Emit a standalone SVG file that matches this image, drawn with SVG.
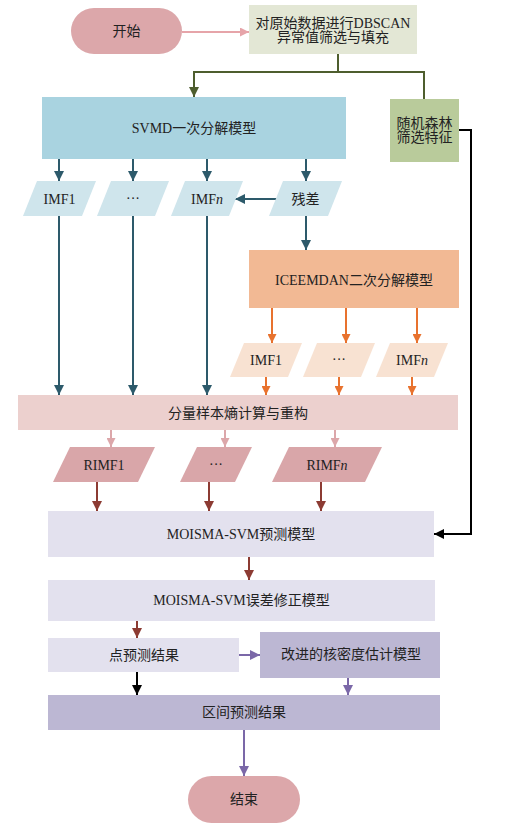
<svg xmlns="http://www.w3.org/2000/svg" width="509" height="828" viewBox="0 0 509 828">
<style>
text{font-family:"Liberation Serif","Noto Sans CJK SC",serif;font-size:14px;fill:#222;text-anchor:middle;dominant-baseline:central}
.ln{fill:none;stroke-width:2}
</style>
<defs>
<marker id="mPink" viewBox="0 0 10 10" refX="10" refY="5" markerWidth="9" markerHeight="9" markerUnits="userSpaceOnUse" orient="auto"><path d="M0,0L10,5L0,10z" fill="#e6a4a9"/></marker>
<marker id="mGreen" viewBox="0 0 10 10" refX="10" refY="5" markerWidth="10" markerHeight="10" markerUnits="userSpaceOnUse" orient="auto"><path d="M0,0L10,5L0,10z" fill="#4e5e2e"/></marker>
<marker id="mTeal" viewBox="0 0 10 10" refX="10" refY="5" markerWidth="10" markerHeight="10" markerUnits="userSpaceOnUse" orient="auto"><path d="M0,0L10,5L0,10z" fill="#2d5a6b"/></marker>
<marker id="mOrange" viewBox="0 0 10 10" refX="10" refY="5" markerWidth="9" markerHeight="9" markerUnits="userSpaceOnUse" orient="auto"><path d="M0,0L10,5L0,10z" fill="#e8722e"/></marker>
<marker id="mRose" viewBox="0 0 10 10" refX="10" refY="5" markerWidth="9" markerHeight="9" markerUnits="userSpaceOnUse" orient="auto"><path d="M0,0L10,5L0,10z" fill="#dca7aa"/></marker>
<marker id="mRed" viewBox="0 0 10 10" refX="10" refY="5" markerWidth="10" markerHeight="10" markerUnits="userSpaceOnUse" orient="auto"><path d="M0,0L10,5L0,10z" fill="#8c3b33"/></marker>
<marker id="mBlack" viewBox="0 0 10 10" refX="10" refY="5" markerWidth="10" markerHeight="10" markerUnits="userSpaceOnUse" orient="auto"><path d="M0,0L10,5L0,10z" fill="#000"/></marker>
<marker id="mPurple" viewBox="0 0 10 10" refX="10" refY="5" markerWidth="10" markerHeight="10" markerUnits="userSpaceOnUse" orient="auto"><path d="M0,0L10,5L0,10z" fill="#7b68a8"/></marker>
</defs>

<g id="connectors">
<path class="ln" d="M182,32H249" stroke="#e6a4a9" marker-end="url(#mPink)"/>
<path class="ln" d="M338,54V72H194V97" stroke="#4e5e2e" marker-end="url(#mGreen)"/>
<path class="ln" d="M338,72H424V99" stroke="#4e5e2e"/>
<path class="ln" d="M459,130H471V534H434" stroke="#000" marker-end="url(#mBlack)"/>
<path class="ln" d="M59,159V181" stroke="#2d5a6b" marker-end="url(#mTeal)"/>
<path class="ln" d="M133,159V181" stroke="#2d5a6b" marker-end="url(#mTeal)"/>
<path class="ln" d="M207,159V181" stroke="#2d5a6b" marker-end="url(#mTeal)"/>
<path class="ln" d="M306,159V181" stroke="#2d5a6b" marker-end="url(#mTeal)"/>
<path class="ln" d="M278,199H235" stroke="#2d5a6b" marker-end="url(#mTeal)"/>
<path class="ln" d="M306,216V250" stroke="#2d5a6b" marker-end="url(#mTeal)"/>
<path class="ln" d="M59,216V395" stroke="#2d5a6b" marker-end="url(#mTeal)"/>
<path class="ln" d="M133,216V395" stroke="#2d5a6b" marker-end="url(#mTeal)"/>
<path class="ln" d="M207,216V395" stroke="#2d5a6b" marker-end="url(#mTeal)"/>
<path class="ln" d="M272,308V343" stroke="#e8722e" marker-end="url(#mOrange)"/>
<path class="ln" d="M346,308V343" stroke="#e8722e" marker-end="url(#mOrange)"/>
<path class="ln" d="M417,308V343" stroke="#e8722e" marker-end="url(#mOrange)"/>
<path class="ln" d="M266,377V395" stroke="#e8722e" marker-end="url(#mOrange)"/>
<path class="ln" d="M339,377V395" stroke="#e8722e" marker-end="url(#mOrange)"/>
<path class="ln" d="M412,377V395" stroke="#e8722e" marker-end="url(#mOrange)"/>
<path class="ln" d="M111,430V447" stroke="#dca7aa" marker-end="url(#mRose)"/>
<path class="ln" d="M225,430V447" stroke="#dca7aa" marker-end="url(#mRose)"/>
<path class="ln" d="M335,430V447" stroke="#dca7aa" marker-end="url(#mRose)"/>
<path class="ln" d="M97,482V511" stroke="#8c3b33" marker-end="url(#mRed)"/>
<path class="ln" d="M209,482V511" stroke="#8c3b33" marker-end="url(#mRed)"/>
<path class="ln" d="M321,482V511" stroke="#8c3b33" marker-end="url(#mRed)"/>
<path class="ln" d="M249,557V580" stroke="#8c3b33" marker-end="url(#mRed)"/>
<path class="ln" d="M137,621V638" stroke="#8c3b33" marker-end="url(#mRed)"/>
<path class="ln" d="M239,655H260" stroke="#7b68a8" marker-end="url(#mPurple)"/>
<path class="ln" d="M137,672V695" stroke="#000" marker-end="url(#mBlack)"/>
<path class="ln" d="M348,678V695" stroke="#7b68a8" marker-end="url(#mPurple)"/>
<path class="ln" d="M244,730V776" stroke="#7b68a8" marker-end="url(#mPurple)"/>
</g>

<g id="start"><rect x="71" y="8" width="111" height="46" rx="23" fill="#dca7aa"/><text x="126.5" y="31">开始</text></g>
<g id="dbscan"><rect x="249" y="5" width="168" height="49" fill="#e3e7d5"/><text x="333" y="23">对原始数据进行DBSCAN</text><text x="333" y="37">异常值筛选与填充</text></g>
<g id="svmd"><rect x="42" y="97" width="304" height="62" fill="#a9d3e0"/><text x="194" y="128">SVMD一次分解模型</text></g>
<g id="rf"><rect x="390" y="99" width="69" height="63" fill="#b9cb9b"/><text x="424.5" y="123">随机森林</text><text x="424.5" y="137">筛选特征</text></g>

<g id="imf1a"><polygon points="37,181 96,181 82,216 23,216" fill="#cfe5ec"/><text x="59.5" y="199">IMF1</text></g>
<g id="dotsa"><polygon points="111,181 169,181 155,216 97,216" fill="#cfe5ec"/><text x="133" y="198">···</text></g>
<g id="imfna"><polygon points="185,181 243,181 229,216 171,216" fill="#cfe5ec"/><text x="207" y="199">IMF<tspan font-style="italic">n</tspan></text></g>
<g id="residual"><polygon points="283,181 342,181 328,216 269,216" fill="#cfe5ec"/><text x="305.5" y="199">残差</text></g>

<g id="iceemdan"><rect x="249" y="250" width="210" height="58" fill="#f2b994"/><text x="354" y="280">ICEEMDAN二次分解模型</text></g>

<g id="imf1b"><polygon points="244,343 302,343 288,377 230,377" fill="#f8e2d2"/><text x="266" y="360">IMF1</text></g>
<g id="dotsb"><polygon points="317,343 375,343 361,377 303,377" fill="#f8e2d2"/><text x="339" y="359">···</text></g>
<g id="imfnb"><polygon points="390,343 448,343 434,377 376,377" fill="#f8e2d2"/><text x="412" y="360">IMF<tspan font-style="italic">n</tspan></text></g>

<g id="entropy"><rect x="18" y="395" width="440" height="35" fill="#ecd0ce"/><text x="238" y="413">分量样本熵计算与重构</text></g>

<g id="rimf1"><polygon points="70,447 155,447 138,482 53,482" fill="#d9a6a9"/><text x="104" y="465">RIMF1</text></g>
<g id="rimfdots"><polygon points="197,447 252,447 235,482 180,482" fill="#d9a6a9"/><text x="216" y="464">···</text></g>
<g id="rimfn"><polygon points="289,447 382,447 365,482 272,482" fill="#d9a6a9"/><text x="327" y="465">RIMF<tspan font-style="italic">n</tspan></text></g>

<g id="predict"><rect x="48" y="511" width="386" height="46" fill="#e3e1ee"/><text x="241" y="534">MOISMA-SVM预测模型</text></g>
<g id="correct"><rect x="48" y="580" width="387" height="41" fill="#e3e1ee"/><text x="241.5" y="600">MOISMA-SVM误差修正模型</text></g>
<g id="point"><rect x="48" y="638" width="191" height="34" fill="#e3e1ee"/><text x="144" y="655">点预测结果</text></g>
<g id="kde"><rect x="260" y="632" width="180" height="46" fill="#bcb7d3"/><text x="351" y="654">改进的核密度估计模型</text></g>
<g id="interval"><rect x="48" y="695" width="392" height="35" fill="#bcb7d3"/><text x="244" y="712">区间预测结果</text></g>
<g id="end"><rect x="188" y="776" width="112" height="47" rx="23.5" fill="#dca7aa"/><text x="244" y="799">结束</text></g>
</svg>
